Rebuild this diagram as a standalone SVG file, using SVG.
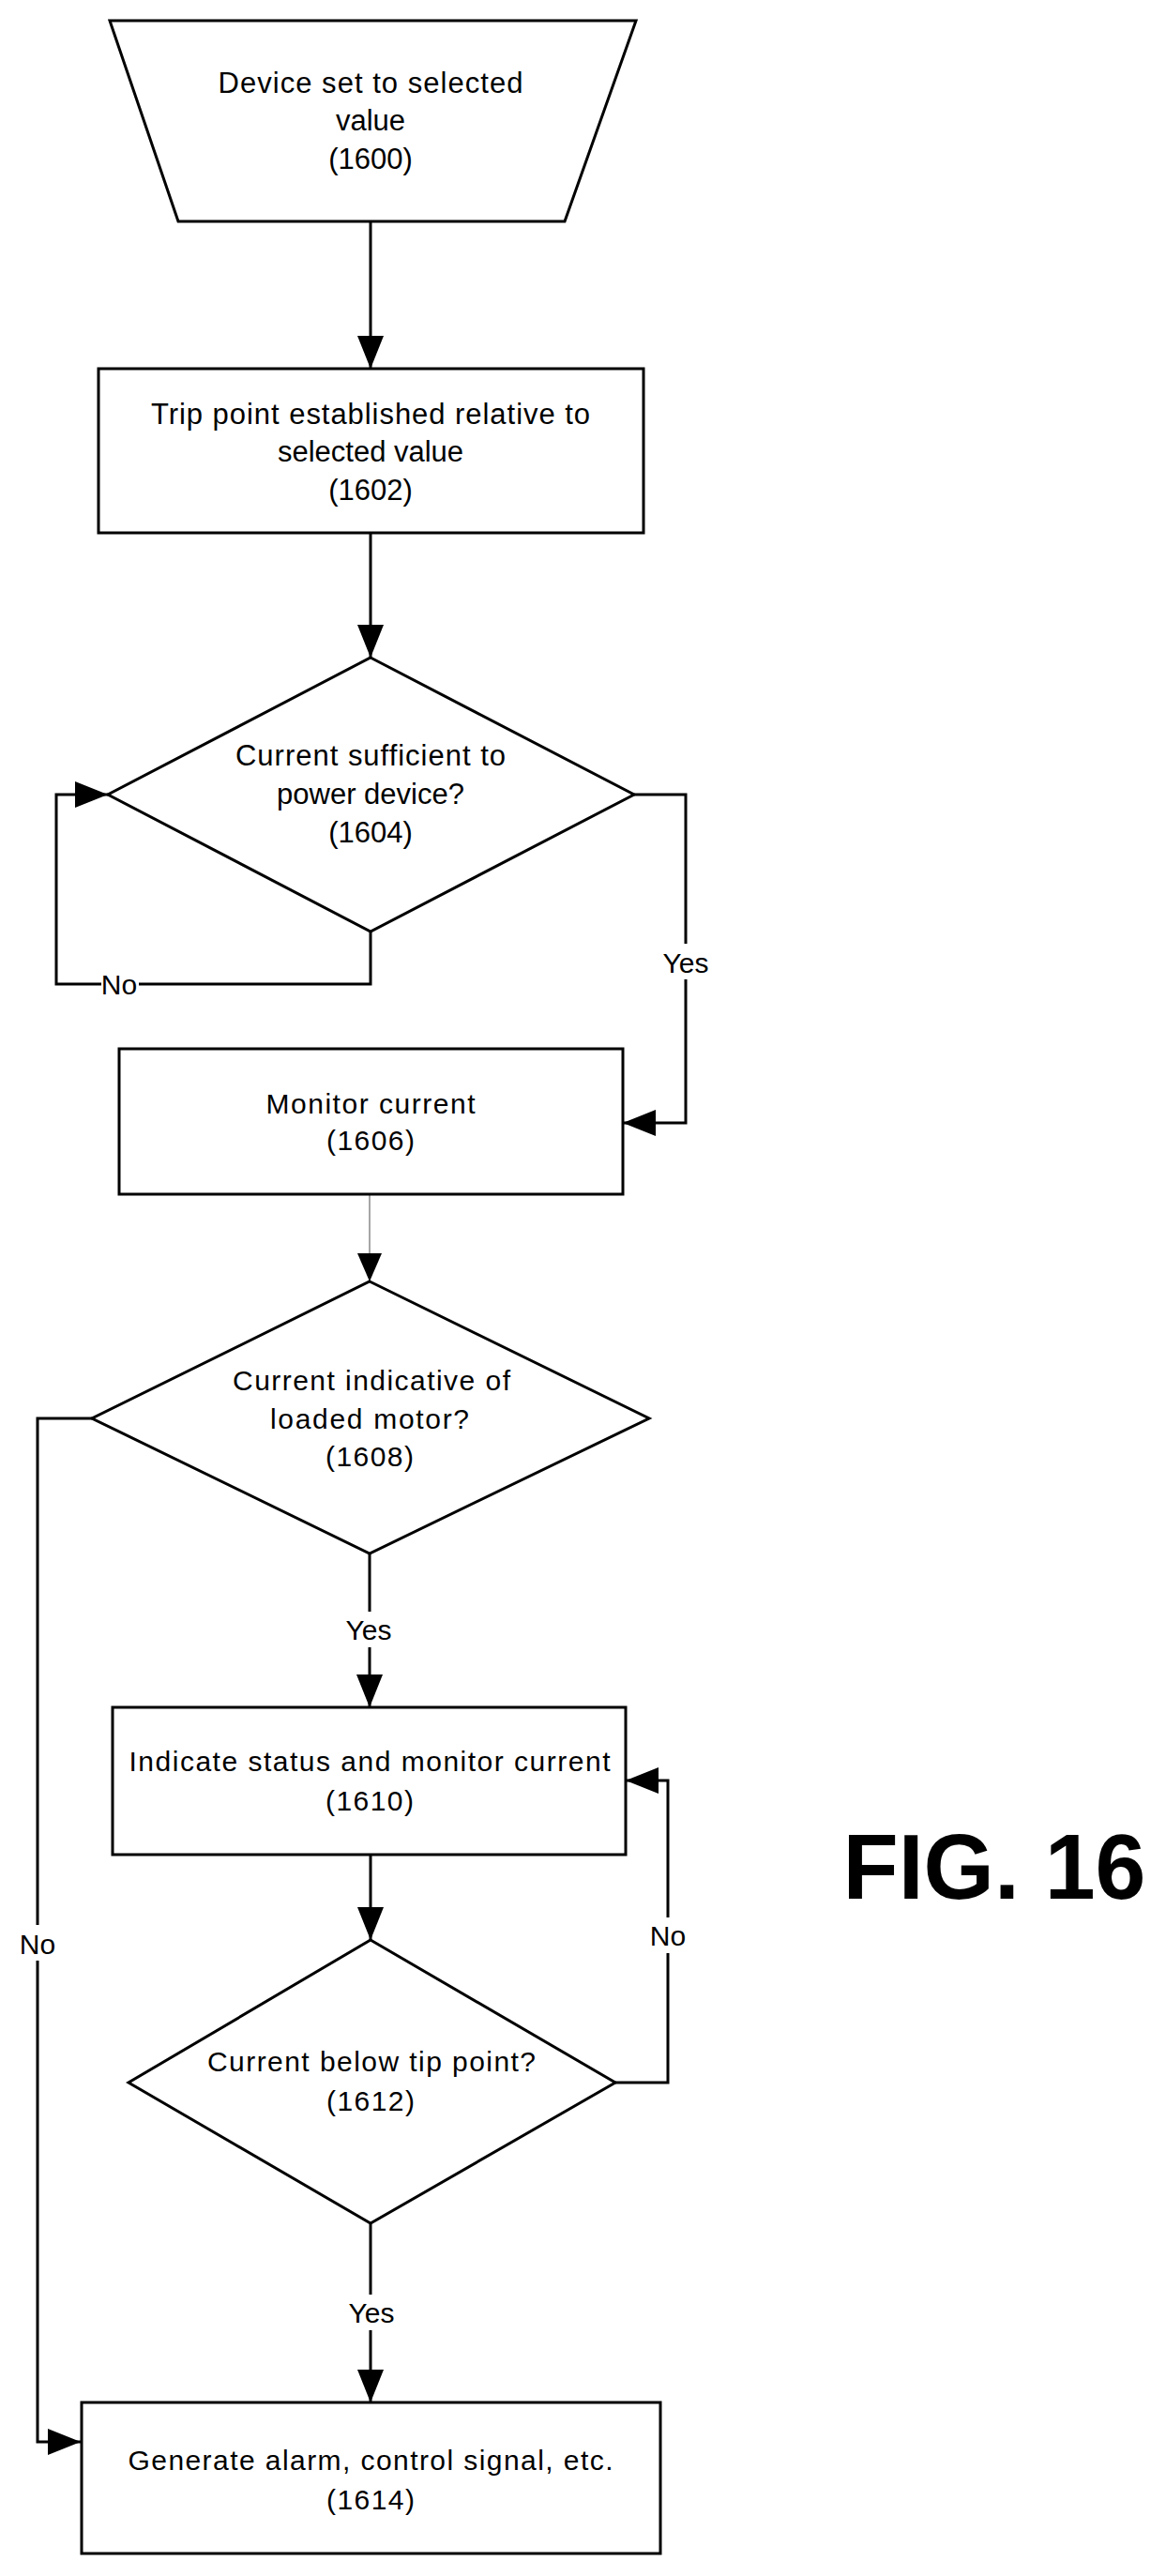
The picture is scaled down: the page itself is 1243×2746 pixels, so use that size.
<svg xmlns="http://www.w3.org/2000/svg" width="1243" height="2746" viewBox="0 0 1243 2746">
<style>
.s{fill:#fff;stroke:#000;stroke-width:3}
.t{font-family:"Liberation Sans",Arial,sans-serif;font-size:31px;text-anchor:middle;fill:#000}
.u{font-family:"Liberation Sans",Arial,sans-serif;font-size:30px;text-anchor:middle;fill:#000}
.c{fill:none;stroke:#000;stroke-width:3}
.l{font-family:"Liberation Sans",Arial,sans-serif;font-size:30px;text-anchor:middle;fill:#000}
</style>
<defs>
<marker id="b" viewBox="0 0 10 8" markerWidth="38" markerHeight="28" refX="10" refY="4" orient="auto" markerUnits="userSpaceOnUse"><path d="M0,0L10,4L0,8z" fill="#000"/></marker>
</defs>
<rect width="1243" height="2746" fill="#fff"/>
<g id="connectors">
<path class="c" d="M395,236V393" marker-end="url(#b)"/>
<path class="c" d="M395,568V701" marker-end="url(#b)"/>
<path class="c" d="M395,993V1049H60V847H115" marker-end="url(#b)"/>
<path class="c" d="M676,847H731V1197H664" marker-end="url(#b)"/>
<path fill="none" stroke="#888" stroke-width="1.5" d="M394,1273V1366"/>
<path d="M381,1336L407,1336L394,1366z" fill="#000"/>
<path class="c" d="M98,1512H40V2603H86" marker-end="url(#b)"/>
<path class="c" d="M394,1656V1820" marker-end="url(#b)"/>
<path class="c" d="M395,1977V2068" marker-end="url(#b)"/>
<path class="c" d="M656,2220H712V1898H667" marker-end="url(#b)"/>
<path class="c" d="M395,2370V2561" marker-end="url(#b)"/>
<rect x="108" y="1032" width="40" height="34" fill="#fff"/>
<text class="l" x="127" y="1060">No</text>
<rect x="706" y="1006" width="50" height="38" fill="#fff"/>
<text class="l" x="731" y="1037">Yes</text>
<rect x="18" y="2052" width="44" height="38" fill="#fff"/>
<text class="u" x="40" y="2083">No</text>
<rect x="368" y="1718" width="52" height="38" fill="#fff"/>
<text class="u" x="393" y="1748">Yes</text>
<rect x="690" y="2044" width="44" height="38" fill="#fff"/>
<text class="u" x="712" y="2074">No</text>
<rect x="370" y="2446" width="52" height="38" fill="#fff"/>
<text class="u" x="396" y="2476">Yes</text>
</g>
<g id="n1600"><path class="s" d="M117,22H678L602,236H190z"/>
<text class="t" x="395" y="99" textLength="325">Device set to selected</text>
<text class="t" x="395" y="139">value</text>
<text class="t" x="395" y="180">(1600)</text></g>
<g id="n1602"><rect class="s" x="105" y="393" width="581" height="175"/>
<text class="t" x="395" y="452" textLength="468">Trip point established relative to</text>
<text class="t" x="395" y="492">selected value</text>
<text class="t" x="395" y="533">(1602)</text></g>
<g id="n1604"><path class="s" d="M395,701L676,847L395,993L115,847z"/>
<text class="t" x="395" y="816" textLength="288">Current sufficient to</text>
<text class="t" x="395" y="857">power device?</text>
<text class="t" x="395" y="898">(1604)</text></g>
<g id="n1606"><rect class="s" x="127" y="1118" width="537" height="155"/>
<text class="u" x="395" y="1187" textLength="223">Monitor current</text>
<text class="u" x="395" y="1226" textLength="94">(1606)</text></g>
<g id="n1608"><path class="s" d="M394,1366L692,1512L394,1656L98,1512z"/>
<text class="u" x="396" y="1482" textLength="296">Current indicative of</text>
<text class="u" x="394" y="1523" textLength="212">loaded motor?</text>
<text class="u" x="394" y="1563" textLength="94">(1608)</text></g>
<g id="n1610"><rect class="s" x="120" y="1820" width="547" height="157"/>
<text class="u" x="394" y="1888" textLength="513">Indicate status and monitor current</text>
<text class="u" x="394" y="1930" textLength="94">(1610)</text></g>
<g id="n1612"><path class="s" d="M395,2068L656,2220L395,2370L137,2220z"/>
<text class="u" x="396" y="2208" textLength="350">Current below tip point?</text>
<text class="u" x="395" y="2250" textLength="94">(1612)</text></g>
<g id="n1614"><rect class="s" x="87" y="2561" width="617" height="161"/>
<text class="u" x="395" y="2633" textLength="517">Generate alarm, control signal, etc.</text>
<text class="u" x="395" y="2675" textLength="94">(1614)</text></g>
<text x="1060" y="2024" font-family="Liberation Sans,Arial,sans-serif" font-weight="bold" font-size="98" text-anchor="middle" textLength="323" lengthAdjust="spacingAndGlyphs">FIG. 16</text>
</svg>
